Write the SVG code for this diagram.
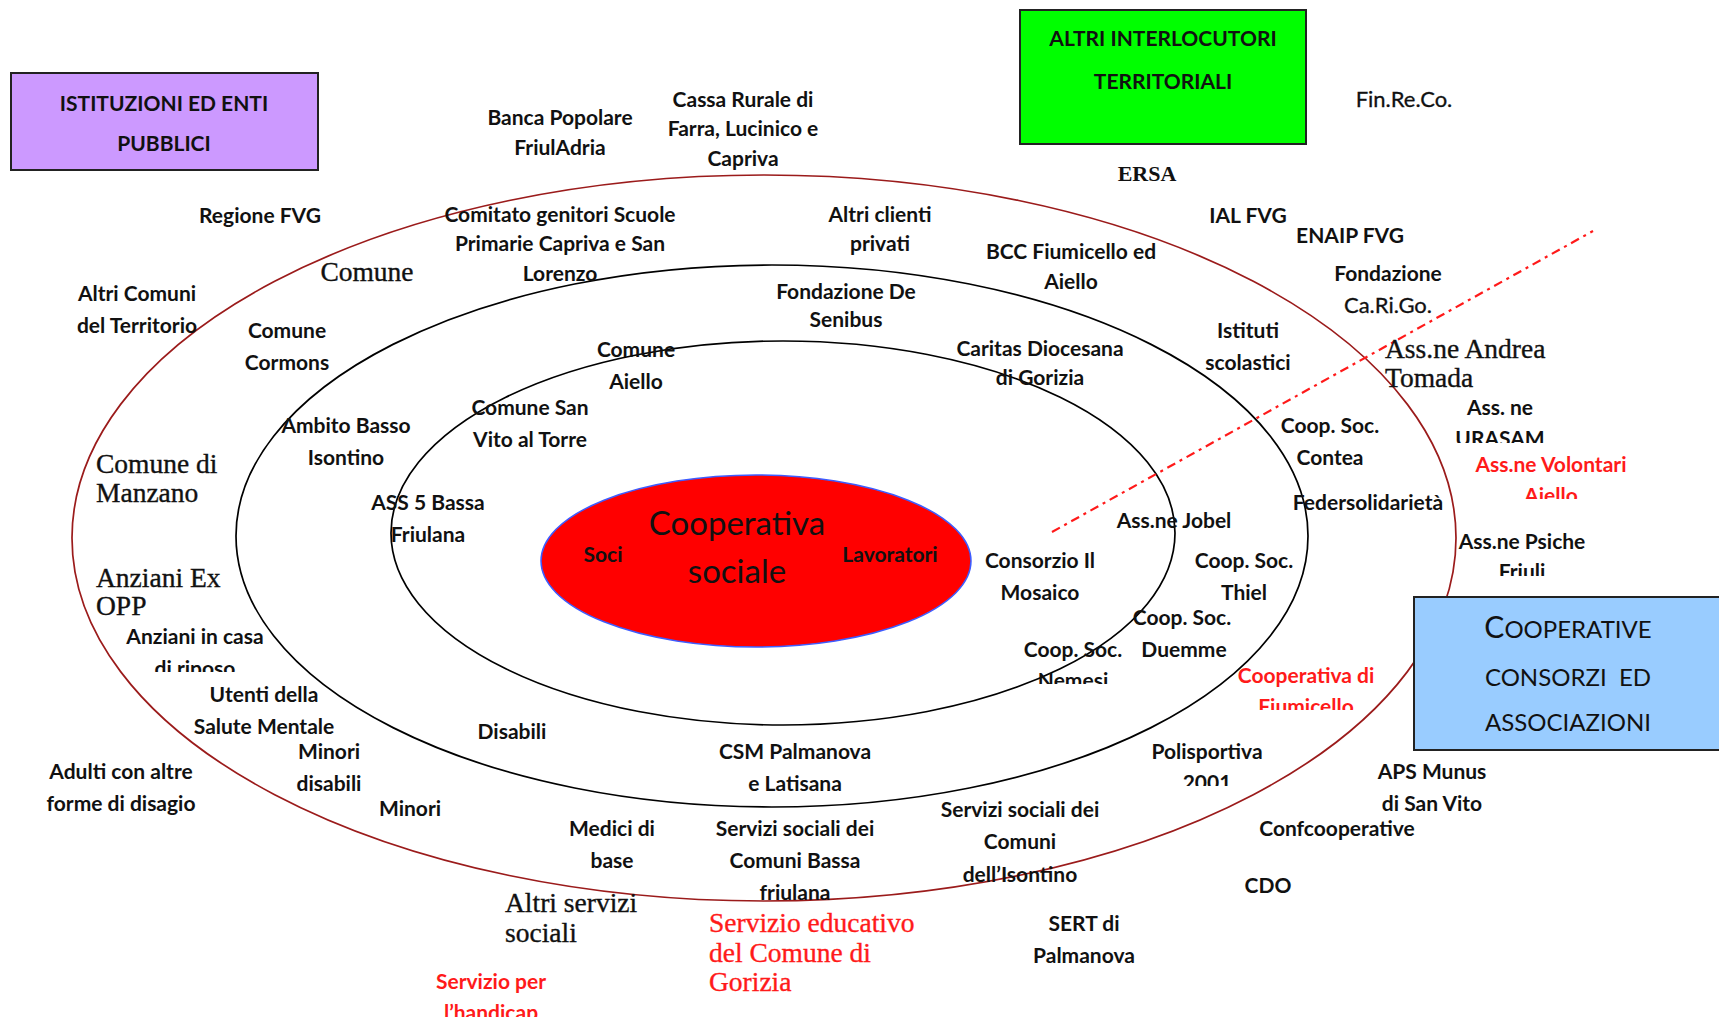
<svg xmlns="http://www.w3.org/2000/svg" width="1719" height="1023" viewBox="0 0 1719 1023">
<style>
.l{font-family:Lato,"Liberation Sans",sans-serif;font-size:21px;font-weight:700;fill:#111;text-anchor:middle}
.n{font-family:Lato,"Liberation Sans",sans-serif;font-size:22px;font-weight:400;fill:#111;text-anchor:middle;stroke:#111;stroke-width:0.3}
.s{font-family:"Liberation Serif","Times New Roman",serif;font-size:27.5px;fill:#111;stroke:#111;stroke-width:0.35}
.r{fill:#ff1a1a;stroke:#ff1a1a}
.l.r{stroke:none}
.box{stroke:#222;stroke-width:2}
.bt{font-family:Lato,"Liberation Sans",sans-serif;font-size:21px;font-weight:700;fill:#111;text-anchor:middle}
.bb{font-family:Lato,"Liberation Sans",sans-serif;font-size:24px;fill:#111;text-anchor:middle}
.ring{fill:none;stroke:#000;stroke-width:1.7}
</style>
<defs>
<clipPath id="c1"><rect x="0" y="0" width="1719" height="684"/></clipPath>
<clipPath id="c2"><rect x="0" y="0" width="1719" height="443"/></clipPath>
<clipPath id="c3"><rect x="0" y="0" width="1719" height="499"/></clipPath>
<clipPath id="c4"><rect x="0" y="0" width="1719" height="576"/></clipPath>
<clipPath id="c5"><rect x="0" y="0" width="1719" height="710"/></clipPath>
<clipPath id="c6"><rect x="0" y="0" width="1719" height="786"/></clipPath>
<clipPath id="c7"><rect x="0" y="0" width="1719" height="672"/></clipPath>
<clipPath id="c8"><rect x="0" y="0" width="1719" height="1017"/></clipPath>
</defs>
<rect width="1719" height="1023" fill="#fff"/>

<g id="rings">
<ellipse id="ring-outer" cx="764" cy="538" rx="692" ry="363" fill="none" stroke="#9b1b1b" stroke-width="1.7"/>
<ellipse id="ring-middle" class="ring" cx="772" cy="536" rx="536" ry="271"/>
<ellipse id="ring-inner" class="ring" cx="783" cy="533" rx="392" ry="192"/>
</g>

<g id="connectors">
<line x1="1052" y1="532" x2="1593" y2="231" stroke="#ff1a1a" stroke-width="2.2" stroke-dasharray="9 5 3 5"/>
</g>

<g id="core">
<ellipse cx="756" cy="561" rx="215" ry="86" fill="#ff0000" stroke="#3d5cff" stroke-width="1.5"/>
<text x="737" y="535" style="font-family:Lato,'Liberation Sans',sans-serif;font-size:33px;fill:#111;text-anchor:middle">Cooperativa</text>
<text x="737" y="583" style="font-family:Lato,'Liberation Sans',sans-serif;font-size:33px;fill:#111;text-anchor:middle">sociale</text>
<text class="l" x="603" y="562">Soci</text>
<text class="l" x="890" y="562">Lavoratori</text>
</g>

<g id="box-istituzioni">
<rect class="box" x="11" y="73" width="307" height="97" fill="#cc99ff"/>
<text class="bt" x="164" y="111">ISTITUZIONI ED ENTI</text>
<text class="bt" x="164" y="151">PUBBLICI</text>
</g>
<g id="box-altri">
<rect class="box" x="1020" y="10" width="286" height="134" fill="#00ff00"/>
<text class="bt" x="1163" y="46">ALTRI INTERLOCUTORI</text>
<text class="bt" x="1163" y="89">TERRITORIALI</text>
</g>
<g id="box-cooperative">
<rect class="box" x="1414" y="597" width="320" height="153" fill="#99ccff"/>
<text class="bb" x="1568" y="638"><tspan style="font-size:30px">C</tspan>OOPERATIVE</text>
<text class="bb" x="1568" y="686" xml:space="preserve">CONSORZI  ED</text>
<text class="bb" x="1568" y="731">ASSOCIAZIONI</text>
</g>

<g id="n-banca"><text class="l" x="560" y="125">Banca Popolare</text><text class="l" x="560" y="155">FriulAdria</text></g>
<g id="n-cassa"><text class="l" x="743" y="107">Cassa Rurale di</text><text class="l" x="743" y="136">Farra, Lucinico e</text><text class="l" x="743" y="166">Capriva</text></g>
<g id="n-regione"><text class="l" x="260" y="223">Regione FVG</text></g>
<g id="n-comune"><text class="s" x="367" y="281" text-anchor="middle">Comune</text></g>
<g id="n-comitato"><text class="l" x="560" y="222">Comitato genitori Scuole</text><text class="l" x="560" y="251">Primarie Capriva e San</text><text class="l" x="560" y="281">Lorenzo</text></g>
<g id="n-clienti"><text class="l" x="880" y="222">Altri clienti</text><text class="l" x="880" y="251">privati</text></g>
<g id="n-bcc"><text class="l" x="1071" y="259">BCC Fiumicello ed</text><text class="l" x="1071" y="289">Aiello</text></g>
<g id="n-senibus"><text class="l" x="846" y="299">Fondazione De</text><text class="l" x="846" y="327">Senibus</text></g>
<g id="n-altricomuni"><text class="l" x="137" y="301">Altri Comuni</text><text class="l" x="137" y="333">del Territorio</text></g>
<g id="n-cormons"><text class="l" x="287" y="338">Comune</text><text class="l" x="287" y="370">Cormons</text></g>
<g id="n-aiello"><text class="l" x="636" y="357">Comune</text><text class="l" x="636" y="389">Aiello</text></g>
<g id="n-caritas"><text class="l" x="1040" y="356">Caritas Diocesana</text><text class="l" x="1040" y="385">di Gorizia</text></g>
<g id="n-istituti"><text class="l" x="1248" y="338">Istituti</text><text class="l" x="1248" y="370">scolastici</text></g>
<g id="n-sanvito"><text class="l" x="530" y="415">Comune San</text><text class="l" x="530" y="447">Vito al Torre</text></g>
<g id="n-ambito"><text class="l" x="346" y="433">Ambito Basso</text><text class="l" x="346" y="465">Isontino</text></g>
<g id="n-manzano"><text class="s" x="96" y="473">Comune di</text><text class="s" x="96" y="502">Manzano</text></g>
<g id="n-ass5"><text class="l" x="428" y="510">ASS 5 Bassa</text><text class="l" x="428" y="542">Friulana</text></g>
<g id="n-opp"><text class="s" x="96" y="587">Anziani Ex</text><text class="s" x="96" y="615">OPP</text></g>
<g id="n-anzianicasa"><text class="l" x="195" y="644">Anziani in casa</text><text class="l" x="195" y="676" clip-path="url(#c7)">di riposo</text></g>
<g id="n-utenti"><text class="l" x="264" y="702">Utenti della</text><text class="l" x="264" y="734">Salute Mentale</text></g>
<g id="n-minoridis"><text class="l" x="329" y="759">Minori</text><text class="l" x="329" y="791">disabili</text></g>
<g id="n-disabili"><text class="l" x="512" y="739">Disabili</text></g>
<g id="n-adulti"><text class="l" x="121" y="779">Adulti con altre</text><text class="l" x="121" y="811">forme di disagio</text></g>
<g id="n-minori"><text class="l" x="410" y="816">Minori</text></g>
<g id="n-csm"><text class="l" x="795" y="759">CSM Palmanova</text><text class="l" x="795" y="791">e Latisana</text></g>
<g id="n-medici"><text class="l" x="612" y="836">Medici di</text><text class="l" x="612" y="868">base</text></g>
<g id="n-servbassa"><text class="l" x="795" y="836">Servizi sociali dei</text><text class="l" x="795" y="868">Comuni Bassa</text><text class="l" x="795" y="900">friulana</text></g>
<g id="n-servisontino"><text class="l" x="1020" y="817">Servizi sociali dei</text><text class="l" x="1020" y="849">Comuni</text><text class="l" x="1020" y="882">dell’Isontino</text></g>
<g id="n-altriservizi"><text class="s" x="505" y="912">Altri servizi</text><text class="s" x="505" y="942">sociali</text></g>
<g id="n-educativo"><text class="s r" x="709" y="932">Servizio educativo</text><text class="s r" x="709" y="962">del Comune di</text><text class="s r" x="709" y="991">Gorizia</text></g>
<g id="n-handicap"><text class="l r" x="491" y="989">Servizio per</text><text class="l r" x="491" y="1020" clip-path="url(#c8)">l’handicap</text></g>
<g id="n-sert"><text class="l" x="1084" y="931">SERT di</text><text class="l" x="1084" y="963">Palmanova</text></g>
<g id="n-polisportiva"><text class="l" x="1207" y="759">Polisportiva</text><text class="l" x="1207" y="790" clip-path="url(#c6)">2001</text></g>
<g id="n-fiumicello"><text class="l r" x="1306" y="683">Cooperativa di</text><text class="l r" x="1306" y="714" clip-path="url(#c5)">Fiumicello</text></g>
<g id="n-duemme"><text class="l" x="1182" y="625">Coop. Soc.</text><text class="l" x="1184" y="657">Duemme</text></g>
<g id="n-nemesi"><text class="l" x="1073" y="657">Coop. Soc.</text><text class="l" x="1073" y="688" clip-path="url(#c1)">Nemesi</text></g>
<g id="n-mosaico"><text class="l" x="1040" y="568">Consorzio Il</text><text class="l" x="1040" y="600">Mosaico</text></g>
<g id="n-jobel"><text class="l" x="1174" y="528">Ass.ne Jobel</text></g>
<g id="n-thiel"><text class="l" x="1244" y="568">Coop. Soc.</text><text class="l" x="1244" y="600">Thiel</text></g>
<g id="n-federsolidarieta"><text class="l" x="1368" y="510">Federsolidarietà</text></g>
<g id="n-contea"><text class="l" x="1330" y="433">Coop. Soc.</text><text class="l" x="1330" y="465">Contea</text></g>
<g id="n-tomada"><text class="s" x="1385" y="358">Ass.ne Andrea</text><text class="s" x="1385" y="387">Tomada</text></g>
<g id="n-urasam"><text class="l" x="1500" y="415">Ass. ne</text><text class="l" x="1500" y="446" clip-path="url(#c2)">URASAM</text></g>
<g id="n-volontari"><text class="l r" x="1551" y="472">Ass.ne Volontari</text><text class="l r" x="1551" y="503" clip-path="url(#c3)">Aiello</text></g>
<g id="n-psiche"><text class="l" x="1522" y="549">Ass.ne Psiche</text><text class="l" x="1522" y="579" clip-path="url(#c4)">Friuli</text></g>
<g id="n-munus"><text class="l" x="1432" y="779">APS Munus</text><text class="l" x="1432" y="811">di San Vito</text></g>
<g id="n-confcoop"><text class="l" x="1337" y="836">Confcooperative</text></g>
<g id="n-cdo"><text class="l" x="1268" y="893">CDO</text></g>
<g id="n-ersa"><text class="s" x="1147" y="181" text-anchor="middle" style="font-size:22px;font-weight:700;stroke-width:0">ERSA</text></g>
<g id="n-finreco"><text class="n" x="1404" y="107">Fin.Re.Co.</text></g>
<g id="n-ial"><text class="l" x="1248" y="223">IAL FVG</text></g>
<g id="n-enaip"><text class="l" x="1350" y="243">ENAIP FVG</text></g>
<g id="n-carigo"><text class="l" x="1388" y="281">Fondazione</text><text class="n" x="1388" y="313">Ca.Ri.Go.</text></g>
</svg>
